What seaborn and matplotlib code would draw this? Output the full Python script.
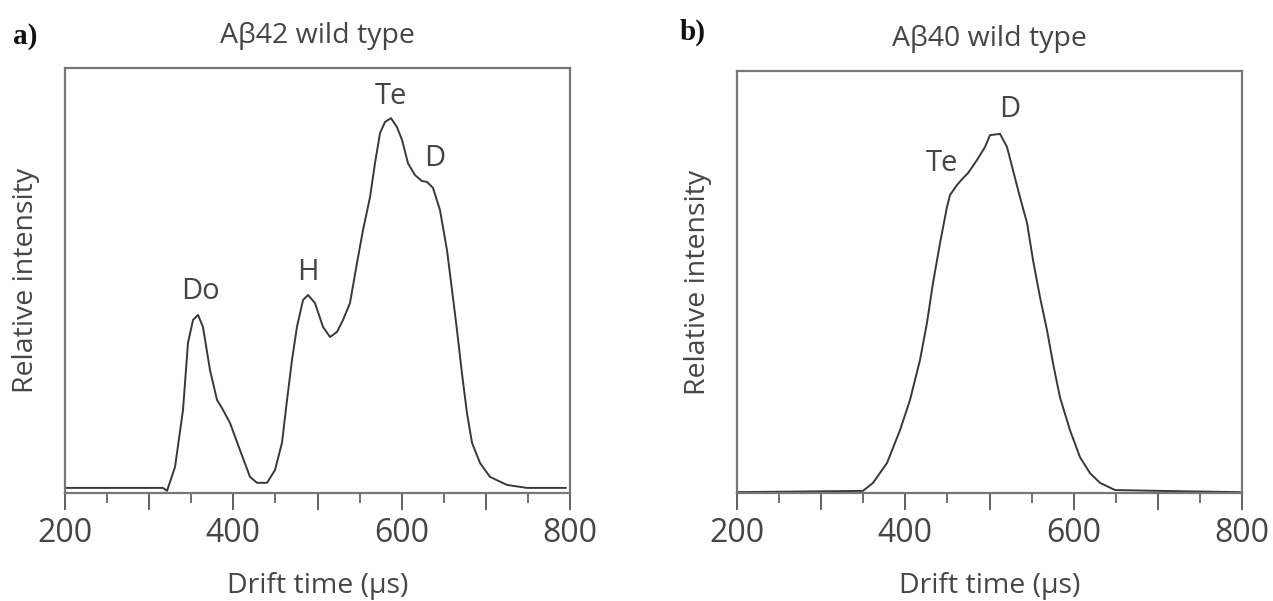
import matplotlib
matplotlib.use('Agg')
import matplotlib.pyplot as plt
from matplotlib.ticker import MultipleLocator, FuncFormatter
import seaborn as sns

sns.set_style('white')
plt.rcParams['font.family'] = ['Open Sans', 'DejaVu Sans']

# Panel a: Abeta42 wild type (drift time in us, relative intensity)
drift_a = [200, 265.3, 316.4, 321.2, 330.7, 340.2, 346.1, 352.1, 358.0, 363.9,
           372.3, 380.6, 386.5, 396.0, 407.9, 419.8, 428.1, 440.0, 449.5, 457.8,
           463.8, 469.7, 475.6, 482.8, 488.7, 497.0, 506.5, 514.9, 523.2, 530.3,
           538.6, 546.9, 554.1, 562.4, 568.3, 574.3, 580.2, 587.3, 594.4, 600.4,
           607.5, 615.8, 624.1, 630.1, 637.2, 645.5, 653.8, 659.8, 665.7, 671.6,
           677.6, 683.6, 693.0, 704.9, 725.1, 748.9, 795.2]
inten_a = [0.012, 0.012, 0.012, 0.005, 0.061, 0.195, 0.353, 0.407, 0.419, 0.391,
           0.289, 0.219, 0.200, 0.165, 0.101, 0.038, 0.024, 0.024, 0.054, 0.118,
           0.219, 0.313, 0.391, 0.454, 0.466, 0.447, 0.391, 0.367, 0.379, 0.407,
           0.447, 0.541, 0.619, 0.696, 0.776, 0.847, 0.873, 0.882, 0.861, 0.831,
           0.776, 0.748, 0.734, 0.732, 0.718, 0.666, 0.572, 0.478, 0.384, 0.282,
           0.188, 0.118, 0.071, 0.038, 0.019, 0.012, 0.012]

# Panel b: Abeta40 wild type
drift_b = [200, 349.7, 361.6, 378.2, 393.7, 405.5, 417.4, 425.7, 432.9, 441.2,
           449.5, 453.1, 461.4, 468.5, 474.5, 485.1, 494.7, 500.6, 512.5, 520.8,
           527.9, 536.2, 544.6, 551.7, 560.0, 568.3, 575.4, 583.7, 595.6, 607.5,
           619.4, 631.3, 649.1, 702.5, 797.6]
inten_b = [0.002, 0.005, 0.024, 0.071, 0.149, 0.220, 0.315, 0.403, 0.498, 0.592,
           0.678, 0.706, 0.730, 0.746, 0.758, 0.789, 0.820, 0.848, 0.851, 0.820,
           0.765, 0.701, 0.640, 0.552, 0.464, 0.386, 0.308, 0.227, 0.149, 0.085,
           0.047, 0.024, 0.007, 0.005, 0.002]

peaks_a = [('Do', 360.4, 0.473), ('H', 488.7, 0.518), ('Te', 587.3, 0.932), ('D', 639.5, 0.788)]
peaks_b = [('Te', 443.2, 0.781), ('D', 524.3, 0.908)]

titles = ['A\u03b242 wild type', 'A\u03b240 wild type']
panel_tags = ['a)', 'b)']

W, H = 1273, 601
fig = plt.figure(figsize=(W / 100, H / 100), dpi=100)


def px_axes(left, right, top, bottom):
    return fig.add_axes([left / W, 1 - bottom / H, (right - left) / W, (bottom - top) / H])


ax_a = px_axes(65, 570, 68, 493)
ax_b = px_axes(737, 1242, 71, 493)

text_col = '#454545'
line_col = '#383838'

for ax, x, y, peaks, title in [(ax_a, drift_a, inten_a, peaks_a, titles[0]),
                               (ax_b, drift_b, inten_b, peaks_b, titles[1])]:
    sns.lineplot(x=x, y=y, ax=ax, color=line_col, lw=1.4)
    ax.set_xlim(200, 800)
    ax.set_ylim(0, 1)
    ax.set_yticks([])
    ax.xaxis.set_major_locator(MultipleLocator(100))
    ax.xaxis.set_minor_locator(MultipleLocator(50))
    ax.xaxis.set_major_formatter(FuncFormatter(lambda v, p: f'{v:.0f}' if v % 200 == 0 else ''))
    ax.tick_params(axis='x', which='major', length=12, width=1.3, color='#555555',
                   direction='out', labelsize=23, labelcolor=text_col, pad=5)
    ax.tick_params(axis='x', which='minor', length=7, width=1.2, color='#555555', direction='out')
    ax.tick_params(bottom=True, which='both')
    for s in ax.spines.values():
        s.set_color('#777777')
        s.set_linewidth(1.6)
    ax.set_xlabel('Drift time (\u03bcs)', fontsize=20.5, color=text_col, labelpad=16)
    ax.set_ylabel('Relative intensity', fontsize=20.5, color=text_col, labelpad=18)
    ax.set_title(title, fontsize=20.5, color=text_col, pad=18)
    for lab, px, py in peaks:
        ax.text(px, py, lab, fontsize=21, color=text_col, ha='center', va='center')

fig.text(25 / W, 1 - 37 / H, panel_tags[0], family='Liberation Serif', fontweight='bold',
         fontsize=21, ha='center', va='center', color='#111111')
fig.text(693 / W, 1 - 32 / H, panel_tags[1], family='Liberation Serif', fontweight='bold',
         fontsize=21, ha='center', va='center', color='#111111')

fig.savefig('out.png', dpi=100)
